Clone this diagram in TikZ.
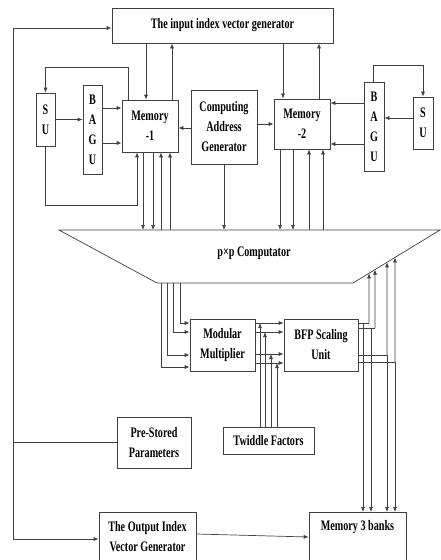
\documentclass[tikz,border=0pt]{standalone}
\usepackage{fontspec}
\setmainfont{Liberation Serif}[FakeStretch=0.7]
\usetikzlibrary{arrows.meta,calc}
\newcommand\dgfont{\fontsize{14.5}{20}\selectfont\bfseries}
\begin{document}
\begin{tikzpicture}[x=1pt,y=-1pt,
  box/.style={draw=black!75, line width=0.7pt, inner sep=0pt, align=center, font=\dgfont},
  ln/.style={draw=black!75, line width=0.7pt},
  arr/.style={ln, -{Latex[length=5pt,width=4pt]}}]
\useasboundingbox (0,0) rectangle (441,560);
% boxes
\node[box, minimum width=221pt, minimum height=35pt] (in) at (222.5,25.5) {The input index vector generator};
\node[box, minimum width=19pt, minimum height=53pt] (su1) at (45.5,119.5) {S\\U};
\node[box, minimum width=19pt, minimum height=89pt] (bagu1) at (92.5,129.5) {B\\A\\G\\U};
\node[box, minimum width=56pt, minimum height=52pt] (mem1) at (150,126) {Memory\\-1};
\node[box, minimum width=66pt, minimum height=74pt] (cag) at (224,127) {Computing\\Address\\Generator};
\node[box, minimum width=56pt, minimum height=50pt] (mem2) at (302,124) {Memory\\-2};
\node[box, minimum width=20pt, minimum height=89pt] (bagu2) at (374,126.5) {B\\A\\G\\U};
\node[box, minimum width=20pt, minimum height=52pt] (su2) at (423,123) {S\\U};
% computator
\coordinate (tl) at (59,230); \coordinate (tr) at (440,230);
\coordinate (br) at (353,283); \coordinate (bl) at (157,283);
\draw[ln] (tl) -- (tr) -- (br) -- (bl) -- cycle;
\node[font=\dgfont] (comp) at (254,253) {p×p Computator};
\node[box, minimum width=65pt, minimum height=52pt] (mm) at (222.5,345) {Modular\\Multiplier};
\node[box, minimum width=74pt, minimum height=52pt] (bfp) at (321,345) {BFP Scaling\\Unit};
\node[box, minimum width=74pt, minimum height=51pt] (pre) at (154,442.5) {Pre-Stored\\Parameters};
\node[box, minimum width=91pt, minimum height=27pt] (tw) at (268.5,440.5) {Twiddle Factors};
\node[box, minimum width=97pt, minimum height=50pt] (oivg) at (147.5,537) {The Output Index\\Vector Generator};
\node[box, anchor=north, minimum width=97pt, text height=13pt, text depth=40pt, inner ysep=5pt] (mem3) at (357.5,512) {Memory 3 banks};
% connectors top
\draw[arr] (146,0 |- in.south) -- (146,0 |- mem1.north);
\draw[arr] (172,0 |- mem1.north) -- (172,0 |- in.south);
\draw[arr] (283,0 |- in.south) -- (283,0 |- mem2.north);
\draw[arr] (319,0 |- mem2.north) -- (319,0 |- in.south);
\draw[arr] (128,0 |- mem1.north) -- (128,67) -| (su1.north);
\draw[arr] (su1.east) -- (su1.east -| bagu1.west);
\draw[arr] (bagu1.east |- 0,108) -- (mem1.west |- 0,108);
\draw[arr] (bagu1.east |- 0,143) -- (mem1.west |- 0,143);
\draw[arr] (su1.south) |- (137,205) -- (137,0 |- mem1.south);
\draw[arr] (cag.west |- 0,128) -- (mem1.east |- 0,128);
\draw[arr] (cag.east |- 0,124) -- (mem2.west |- 0,124);
\draw[arr] (cag.south) -- (cag.south |- tl);
\foreach \x in {143,153} \draw[arr] (\x,0 |- mem1.south) -- (\x,0 |- tl);
\foreach \x in {161,170} \draw[arr] (\x,0 |- tl) -- (\x,0 |- mem1.south);
\foreach \x in {280,293} \draw[arr] (\x,0 |- mem2.south) -- (\x,0 |- tl);
\foreach \x in {309,323} \draw[arr] (\x,0 |- tl) -- (\x,0 |- mem2.south);
\draw[arr] (bagu2.west |- 0,103) -- (mem2.east |- 0,103);
\draw[arr] (bagu2.west |- 0,144) -- (mem2.east |- 0,144);
\draw[arr] (su2.west |- 0,118) -- (bagu2.east |- 0,118);
\draw[arr] (373,0 |- bagu2.north) -- (373,65) -| (su2.north);
% middle
\foreach \x/\y in {180/323,173/332,167/355,161/367} \draw[arr] (\x,0 |- bl) |- (mm.west |- 0,\y);
\foreach \y in {323,332,354,363} \draw[arr] (mm.east |- 0,\y) -- (bfp.west |- 0,\y);
\foreach \x/\y in {260/323,265/332,271/354,277/363} \draw[arr] (\x,0 |- tw.north) -- (\x,\y);
\foreach \y/\u/\d in {323/369/363, 328/375/371, 355/387/387, 362/395/395} {
  \draw[ln] (bfp.east |- 0,\y) -- (\u,\y);
  \draw[arr] (\u,\y) -- (intersection of tr--br and \u,0--\u,600);
  \draw[arr] (\d,\y) -- (\d,0 |- mem3.north);
}
% left loop and bottom
\coordinate (lt) at (13,28);
\draw[ln] (pre.west) -- (pre.west -| lt);
\draw[arr] (pre.west -| lt) -- (lt) -- (lt -| in.west);
\draw[arr] (pre.west -| lt) |- (oivg.west |- 0,539);
\draw[arr] (oivg.east |- 0,534) -- (mem3.west |- 0,537);
\end{tikzpicture}
\end{document}
